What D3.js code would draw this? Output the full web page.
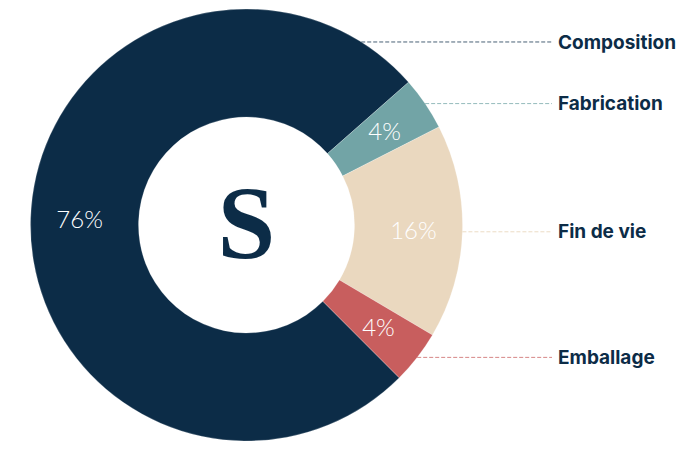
<!DOCTYPE html>
<html>
<head>
<meta charset="utf-8">
<script src="https://cdn.jsdelivr.net/npm/d3@7"></script>
<style>
  html, body { margin: 0; padding: 0; background: #fff; }
  svg { display: block; }
</style>
</head>
<body>
<svg id="chart" width="696" height="450"></svg>
<script>
const categories = ["Composition", "Fabrication", "Fin de vie", "Emballage"];
const values = [76, 4, 16, 4];
const valueLabels = ["76%", "4%", "16%", "4%"];
const colors = ["#0c2c47", "#72a4a6", "#ead8bf", "#c85e5e"];
const centerLetter = "S";

const W = 696, H = 450;
const cx = 246.5, cy = 225;
const outerR = 216, innerR = 108;
const labelX = 558, lineEndX = 552;

const svg = d3.select("#chart");
const g = svg.append("g").attr("transform", `translate(${cx},${cy})`);

const data = categories.map((c, i) => ({ name: c, value: values[i], label: valueLabels[i], color: colors[i] }));

const start = Math.PI * 0.75;
const pie = d3.pie().sort(null).value(d => d.value)
  .startAngle(start).endAngle(start + 2 * Math.PI);
const arcs = pie(data);

const arc = d3.arc().innerRadius(innerR).outerRadius(outerR);
const labelArc = d3.arc().innerRadius(167).outerRadius(167);

g.selectAll("path.slice").data(arcs).enter().append("path")
  .attr("class", "slice")
  .attr("d", arc)
  .attr("fill", d => d.data.color)
  .attr("stroke", "#ffffff")
  .attr("stroke-opacity", 0.35)
  .attr("stroke-width", 0.6);

g.selectAll("text.pct").data(arcs).enter().append("text")
  .attr("class", "pct")
  .attr("transform", d => { const c = labelArc.centroid(d); return `translate(${c[0]},${c[1]})`; })
  .attr("text-anchor", "middle")
  .attr("dy", "0.36em")
  .attr("fill", "#ffffff")
  .style("font-family", "Lato, 'Open Sans', sans-serif")
  .style("font-weight", 300)
  .style("font-size", "24px")
  .text(d => d.data.label);

// Callout anchors on the outer edge, within the right half of the ring
function anchorAngle(d) {
  const twoPi = 2 * Math.PI;
  let s = d.startAngle % twoPi, e = d.endAngle % twoPi;
  if (e < s) { return e * 0.66; }          // slice wraps through the top
  s = Math.max(s, 0); e = Math.min(e, Math.PI);
  return (s + e) / 2;
}

const callouts = svg.append("g");
arcs.forEach(d => {
  const a = anchorAngle(d);
  const y = cy - outerR * Math.cos(a);
  const x = cx + outerR * Math.sin(a);
  callouts.append("line")
    .attr("x1", x).attr("y1", y)
    .attr("x2", lineEndX).attr("y2", y)
    .attr("stroke", d.data.color)
    .attr("stroke-opacity", d.data.name === "Fin de vie" ? 0.9 : 0.75)
    .attr("stroke-width", 1)
    .attr("stroke-dasharray", "4,2");
  callouts.append("text")
    .attr("x", labelX).attr("y", y)
    .attr("dy", "0.35em")
    .attr("fill", "#0c2c47")
    .style("font-family", "Inter, 'Open Sans', sans-serif")
    .style("font-weight", 700)
    .style("font-size", "19px")
    .text(d.data.name);
});

g.append("text")
  .attr("text-anchor", "middle")
  .attr("dy", "0.32em")
  .attr("fill", "#0c2c47")
  .style("font-family", "'Liberation Serif', 'DejaVu Serif', serif")
  .style("font-weight", 700)
  .style("font-size", "104px")
  .text(centerLetter);
</script>
</body>
</html>
